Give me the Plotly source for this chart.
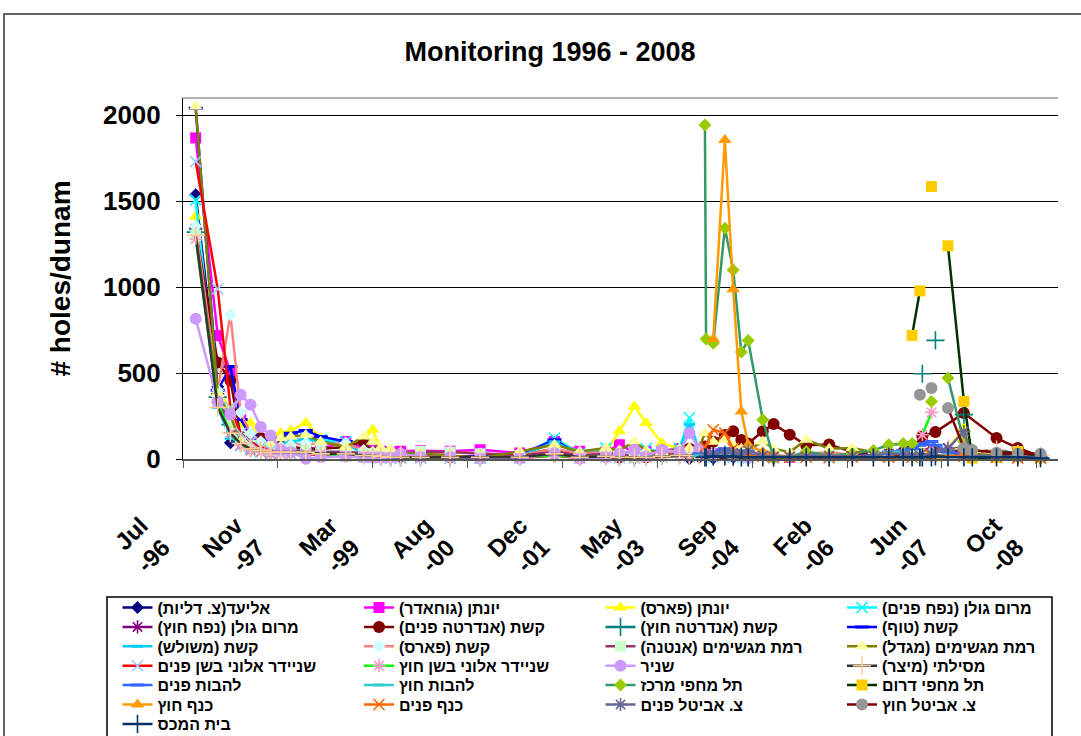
import plotly.graph_objects as go

FONT = "Arial, Liberation Sans, sans-serif"
N = None

# ---------------- data ----------------
DATES_EARLY = ["1996-09-08", "1997-01-02", "1997-03-10", "1997-05-03", "1997-06-24", "1997-08-17",
               "1997-10-08", "1997-12-01", "1998-01-22", "1998-04-11", "1998-06-29", "1998-11-08",
               "1999-02-10", "1999-03-30", "1999-05-11", "1999-07-02", "1999-08-24", "1999-12-07",
               "2000-05-11", "2000-10-16", "2001-05-13", "2001-11-12", "2002-03-25", "2002-08-10",
               "2002-10-20", "2003-01-07", "2003-03-10", "2003-06-01", "2003-09-02", "2003-10-24"]
DATES_LATE = ["2003-12-15", "2004-01-14", "2004-01-20", "2004-02-27", "2004-04-28", "2004-06-11",
              "2004-07-24", "2004-08-29", "2004-11-14", "2005-01-10", "2005-04-05", "2005-07-01",
              "2005-10-30", "2006-03-01", "2006-06-20", "2006-09-09", "2006-11-24", "2007-01-10",
              "2007-02-20", "2007-03-05", "2007-04-22", "2007-05-13", "2007-07-18", "2007-10-10",
              "2007-11-23", "2008-03-30", "2008-07-20", "2008-11-17"]

TICK_DATES = ["1996-07-03", "1997-11-15", "1999-03-30", "2000-08-11", "2001-12-24",
              "2003-05-08", "2004-09-19", "2006-02-01", "2007-06-16", "2008-10-28"]
TICK_LABELS = ["Jul<br>-96", "Nov<br>-97", "Mar<br>-99", "Aug<br>-00", "Dec<br>-01",
               "May<br>-03", "Sep<br>-04", "Feb<br>-06", "Jun<br>-07", "Oct<br>-08"]
Y_TICKS = [0, 500, 1000, 1500, 2000]

SERIES_NAMES = ["אליעד(צ. דליות)", "יונתן (גוחאדר)", "יונתן (פארס)", "מרום גולן (נפח פנים)",
                "מרום גולן (נפח חוץ)", "קשת (אנדרטה פנים)", "קשת (אנדרטה חוץ)", "קשת (טוף)",
                "קשת (משולש)", "קשת (פארס)", "רמת מגשימים (אנטנה)", "רמת מגשימים (מגדל)",
                "שניידר אלוני בשן פנים", "שניידר אלוני בשן חוץ", "שניר", "מסילתי (מיצר)",
                "להבות פנים", "להבות חוץ", "תל מחפי מרכז", "תל מחפי דרום",
                "כנף חוץ", "כנף פנים", "צ. אביטל פנים", "צ. אביטל חוץ", "בית המכס"]

s01_early = [1537, 420, 95, 93, 90, 70, 50, 40, 35, 45, 35, 25, 15, 10, 10, 8, 10, 10, 8, 10, 15, 25, 10, 15, 10, 5, 10, 15, 20, 2]
s01_late = [10, N, N, 5, N, 8, N, 5, N, 5, N, N, N, N, N, N, N, N, N, N, N, N, N, N, N, N, N, N]
s02_early = [1868, 718, 509, 250, 122, 85, 70, 60, 60, 65, 60, 102, 60, 50, 45, 40, 45, 48, 45, 54, 35, 102, 45, 40, 83, 40, 44, 50, 60, 40]
s02_late = [40, N, N, 30, N, 20, N, 15, N, 10, 10, N, N, N, N, N, N, N, N, N, N, N, N, N, N, N, N, N]
s03_early = [1410, 393, 300, 200, 209, 112, 130, 151, 165, 210, 120, 60, 110, 170, 60, 10, 5, 5, 5, 5, 10, 40, 10, 44, 161, 306, 209, 93, 60, 40]
s03_late = [30, N, N, 20, N, 40, N, 30, N, 20, 10, N, 10, N, N, 20, N, N, 30, N, 50, N, 60, 180, 30, 20, 10, N]
s04_early = [1507, 327, 150, 80, 60, 40, 30, 60, 90, 122, 115, 102, 30, 20, 10, 5, 5, 5, 5, 5, 10, 122, 30, 64, 20, 30, 60, 40, 60, 240]
s04_late = [40, N, N, 20, N, 15, N, 10, N, 10, N, N, N, N, N, N, N, N, N, N, N, N, N, N, N, N, N, N]
s05_early = [1340, 380, 150, 80, 50, 40, 30, 30, 30, 40, 30, 30, 20, 20, 10, 10, 10, 10, 10, 10, 10, 20, 10, 20, 10, 20, 15, 20, 30, 20]
s05_late = [20, N, N, 20, N, 30, N, 25, N, 20, 15, N, 20, 20, N, 30, N, 20, 31, N, 60, N, 64, 30, 20, 15, 10, 10]
s06_early = [1333, 562, 457, 130, 83, 122, 60, 75, 70, 60, 60, 70, 102, 40, 30, 20, 15, 15, 12, 15, 20, 60, 20, 15, 10, 15, 10, 20, 40, 60]
s06_late = [60, 73, N, 100, 140, 161, 110, 90, 161, 203, 141, 80, 85, 40, 30, 30, 40, 60, N, 131, N, 157, N, 267, N, 122, 64, 15]
s07_early = [1320, 360, 200, 100, 70, 50, 40, 45, 40, 50, 40, 40, 30, 25, 15, 10, 10, 10, 10, 10, 15, 30, 15, 20, 15, 10, 15, 20, 25, 30]
s07_late = [30, N, N, N, N, N, N, N, N, N, N, N, N, N, N, N, N, N, N, 496, N, 690, N, 258, N, N, N, N]
s08_early = [2040, 400, 538, 230, 140, 110, 90, 120, 150, 166, 130, 102, 40, 30, 20, 10, 10, 10, 10, 15, 20, 112, 20, 30, 20, 15, 30, 40, 50, 60]
s08_late = [40, N, N, 30, N, 20, N, 15, N, 10, 10, N, N, N, N, N, N, N, N, N, N, N, N, N, N, N, N, N]
s09_early = [1330, 300, 120, 100, 70, 50, 50, 80, 110, 115, 100, 90, 30, 20, 10, 10, 10, 10, 10, 10, 15, 100, 25, 50, 30, 25, 40, 35, 60, 200]
s09_late = [50, N, N, 20, N, 15, N, 10, N, 10, N, N, N, N, N, N, N, N, N, N, N, N, N, N, N, N, N, N]
s10_early = [1352, 400, 839, 270, 150, 100, 80, 70, 80, 93, 85, 93, 50, 40, 30, 20, 20, 30, 40, 30, 20, 60, 30, 40, 44, 30, 40, 30, 40, 50]
s10_late = [40, N, N, 30, N, 20, N, 20, N, 20, 15, N, 44, 20, N, N, N, N, N, N, N, N, N, N, N, N, N, N]
s11_early = [1300, 350, 200, 120, 80, 60, 50, 40, 40, 50, 40, 40, 30, 30, 20, 15, 20, 44, 40, 30, 20, 40, 20, 30, 30, 10, 15, 20, 30, 40]
s11_late = [30, N, N, 20, N, 20, N, 10, N, 10, N, N, 10, N, N, N, N, N, N, N, N, N, N, N, N, N, N, N]
s12_early = [2050, 380, 250, 100, 80, 60, 90, 120, 130, 140, 100, 70, 131, 100, 66, 60, 40, 30, 20, 5, 44, 83, 44, 64, 50, 102, 50, 40, 60, 64]
s12_late = [64, 151, N, 100, 112, 80, 60, 50, 102, 60, 40, 112, 60, 64, 40, 30, 40, 30, 50, N, 60, N, 40, 80, 30, 20, 10, 5]
s13_early = [1730, 990, 300, 150, 100, 70, 50, 40, 30, 30, 20, 15, 10, 10, 5, 5, 5, 5, 5, 5, 5, 20, 5, 10, 5, 5, 10, 10, 20, 10]
s13_late = [20, N, N, 10, N, 10, N, 5, N, 5, N, N, 5, N, N, 10, N, N, 30, N, 73, N, 40, 20, N, 10, N, 5]
s14_early = [1280, 330, 150, 80, 50, 40, 30, 30, 30, 30, 30, 20, 20, 15, 10, 10, 10, 10, 10, 10, 10, 20, 10, 15, 10, 10, 10, 15, 20, 15]
s14_late = [15, N, N, N, N, N, N, N, N, N, N, N, N, N, N, N, N, N, N, 141, 271, N, N, N, N, N, N, N]
s15_early = [816, 335, 258, 374, 316, 186, 137, 54, 40, 2, 10, 15, 8, 8, 8, 8, 31, 13, 12, 2, 2, 35, 2, 10, 30, 54, 15, 54, 40, 151]
s15_late = [60, 30, N, 20, N, 20, N, 10, N, 10, N, N, N, N, N, N, N, N, N, N, N, N, N, N, N, N, N, N]
s16_early = [1300, 300, 150, 90, 60, 50, 40, 40, 40, 40, 30, 30, 20, 20, 15, 10, 10, 10, 10, 10, 10, 30, 10, 15, 10, 10, 10, 15, 20, 20]
s16_late = [20, N, N, 15, N, 10, N, 10, N, 10, N, N, 10, 10, N, 10, N, 20, N, N, 40, N, 60, 60, 40, 54, 30, 20]
s17_late = [30, 20, N, 40, 60, 50, 30, 20, 20, 15, 15, 20, 20, 15, 20, 40, 50, 60, 80, 90, 102, 80, 40, 30, 20, 15, 10, 10]
s18_late = [20, 15, N, 25, 30, 30, 20, 15, 10, 10, 10, 15, 15, 10, 15, 40, 45, 30, 20, 15, 15, 20, 20, 15, 10, 10, 10, 5]
s19_late = [N, 1943, 698, 674, 1343, 1100, 622, 690, 228, 5, 10, 44, 20, 30, 50, 83, 90, 90, N, N, 335, N, 471, 102, 20, 10, 10, 5]
s20_late = [N, N, N, N, N, N, N, N, N, N, N, N, N, N, N, N, N, 719, 978, N, 1585, N, 1240, 335, 5, 10, 44, 10]
s21_late = [N, N, N, 698, 1856, 988, 277, 83, 40, 20, 15, 15, 20, 15, 10, 5, 10, 10, N, N, 15, 5, N, 20, 10, N, N, N]
s22_late = [N, 70, N, 170, 151, 60, 30, 20, 15, 10, 10, 10, 10, 10, N, 10, N, 10, N, N, 20, N, N, 15, N, 10, 5, 5]
s23_late = [N, 20, N, 30, 40, 35, 30, 50, 20, 15, 15, 15, 20, 15, 20, 30, 30, 20, 20, N, 30, 40, 60, 160, 20, 15, 15, 10]
s24_late = [N, N, N, N, N, N, N, N, N, N, N, N, N, N, N, N, N, N, 374, N, 413, N, 296, 64, 52, 36, 30, 30]
s25_late = [N, 10, 10, 15, 15, 15, 10, 10, 10, 10, 10, 10, 10, 10, 10, 10, 10, 10, 10, 10, 10, 15, 10, 10, 10, 10, 10, 5]

NO_EARLY = [None] * len(DATES_EARLY)
SERIES_VALUES = [
    s01_early + s01_late, s02_early + s02_late, s03_early + s03_late, s04_early + s04_late,
    s05_early + s05_late, s06_early + s06_late, s07_early + s07_late, s08_early + s08_late,
    s09_early + s09_late, s10_early + s10_late, s11_early + s11_late, s12_early + s12_late,
    s13_early + s13_late, s14_early + s14_late, s15_early + s15_late, s16_early + s16_late,
    NO_EARLY + s17_late, NO_EARLY + s18_late, NO_EARLY + s19_late, NO_EARLY + s20_late,
    NO_EARLY + s21_late, NO_EARLY + s22_late, NO_EARLY + s23_late, NO_EARLY + s24_late,
    NO_EARLY + s25_late,
]
ALL_DATES = DATES_EARLY + DATES_LATE

# ---------------- styles ----------------
# (line colour, marker symbol, marker colour, marker size, connect gaps)
STYLES = [
    ("#000080", "diamond", "#000080", 10, True),
    ("#FF00FF", "square", "#FF00FF", 11, True),
    ("#FFFF00", "triangle-up", "#FFFF00", 12, True),
    ("#00FFFF", "x-thin-open", "#00FFFF", 11, True),
    ("#800080", "asterisk-open", "#800080", 11, True),
    ("#800000", "circle", "#800000", 12, True),
    ("#008080", "cross-thin-open", "#008080", 13, False),
    ("#0000FF", "line-ew-open", "#0000FF", 10, True),
    ("#00CCFF", "line-ew-open", "#00CCFF", 8, True),
    ("#FF8080", "diamond", "#CCFFFF", 10, True),
    ("#993366", "square", "#CCFFCC", 11, True),
    ("#808000", "triangle-up", "#FFFF99", 12, True),
    ("#FF0000", "x-thin-open", "#99CCFF", 11, True),
    ("#00FF00", "asterisk-open", "#FF99CC", 11, False),
    ("#CC99FF", "circle", "#CC99FF", 12, True),
    ("#333333", "cross-thin-open", "#FFCC99", 13, True),
    ("#3366FF", "line-ew-open", "#3366FF", 10, True),
    ("#33CCCC", "line-ew-open", "#33CCCC", 8, True),
    ("#339966", "diamond", "#99CC00", 10, False),
    ("#003300", "square", "#FFCC00", 11, False),
    ("#FF9900", "triangle-up", "#FF9900", 12, True),
    ("#FF6600", "x-thin-open", "#FF6600", 11, True),
    ("#666699", "asterisk-open", "#666699", 11, True),
    ("#800000", "circle", "#969696", 12, False),
    ("#003366", "cross-thin-open", "#003366", 13, True),
]

N_ROWS = 7
LEGEND_KEYS = ["legend"] + ["legend%d" % (r + 1) for r in range(1, N_ROWS)]

fig = go.Figure()
for i, (name, vals) in enumerate(zip(SERIES_NAMES, SERIES_VALUES)):
    lc, sym, mc, ms, cg = STYLES[i]
    open_sym = sym.endswith("-open")
    fig.add_trace(go.Scatter(
        x=ALL_DATES, y=vals, name="\u200f" + name + "\u200f",
        mode="lines+markers", connectgaps=cg, cliponaxis=False,
        line=dict(color=lc, width=2.5),
        marker=dict(symbol=sym, color=mc, size=ms,
                    line=dict(color=mc, width=(3 if "line-ew" in sym else 1.6) if open_sym else 0)),
        legend=LEGEND_KEYS[i // 4],
    ))

# ---------------- layout ----------------
L, R, T, B = 183, 23, 98, 277
W, H = 1081, 736
PW, PH = W - L - R, H - T - B


def px_x(px):
    return (px - L) / PW


def px_y(py):
    return (H - B - py) / PH


LEG_FONT = 16
item_h = LEG_FONT * 1.3 + 3
legends = {}
for r, key in enumerate(LEGEND_KEYS):
    row_center = 607.5 + 19.4 * r
    legends[key] = dict(
        orientation="h", xanchor="left", yanchor="top",
        x=px_x(117.5), y=px_y(row_center - item_h / 2 - 5),
        entrywidth=196.5, entrywidthmode="pixels",
        bgcolor="rgba(0,0,0,0)", borderwidth=0,
        font=dict(family=FONT, size=LEG_FONT, color="black", weight="bold"),
        itemclick=False, itemdoubleclick=False,
    )

fig.update_layout(
    width=W, height=H,
    margin=dict(l=L, r=R, t=T, b=B, autoexpand=False),
    paper_bgcolor="white", plot_bgcolor="white",
    font=dict(family=FONT, color="black"),
    title=dict(text="Monitoring 1996 - 2008", x=550 / W, xanchor="center",
               y=1 - 52 / H, yanchor="middle", yref="container",
               font=dict(family=FONT, size=27, color="black", weight="bold")),
    showlegend=True,
    xaxis=dict(
        type="date", range=["1996-07-03", "2009-02-17"],
        tickmode="array", tickvals=TICK_DATES, ticktext=TICK_LABELS,
        tickangle=-45, tickfont=dict(family=FONT, size=24, color="black", weight="bold"),
        ticklabelshift=-42, ticklabelstandoff=34,
        ticks="outside", ticklen=7, tickwidth=1, tickcolor="#555555",
        showgrid=False, zeroline=False,
        showline=True, linecolor="#555555", linewidth=2,
    ),
    yaxis=dict(
        range=[0, 2100], tickmode="array", tickvals=Y_TICKS,
        tickfont=dict(family=FONT, size=26, color="black", weight="bold"),
        ticks="outside", ticklen=6, tickcolor="black", ticklabelstandoff=10,
        showgrid=True, gridcolor="black", gridwidth=1,
        zeroline=False, showline=True, linecolor="black", linewidth=1,
        title=dict(text="# holes/dunam", standoff=24,
                   font=dict(family=FONT, size=28, color="black", weight="bold")),
    ),
    shapes=[
        # outer chart border
        dict(type="rect", xref="paper", yref="paper",
             x0=px_x(4), x1=px_x(1095), y0=px_y(750), y1=px_y(14),
             line=dict(color="#333333", width=1.5), fillcolor="rgba(0,0,0,0)"),
        # plot-area top border
        dict(type="line", xref="paper", yref="paper", x0=0, x1=1, y0=1, y1=1,
             line=dict(color="#999999", width=1.5)),
        # legend box
        dict(type="rect", xref="paper", yref="paper",
             x0=px_x(107), x1=px_x(1052), y0=px_y(745), y1=px_y(597),
             line=dict(color="black", width=1.5), fillcolor="rgba(0,0,0,0)"),
    ],
    **legends,
)

fig.write_html("out.html", config={"displayModeBar": False},
               post_script="document.body.style.margin='0';document.body.style.overflow='hidden';")
